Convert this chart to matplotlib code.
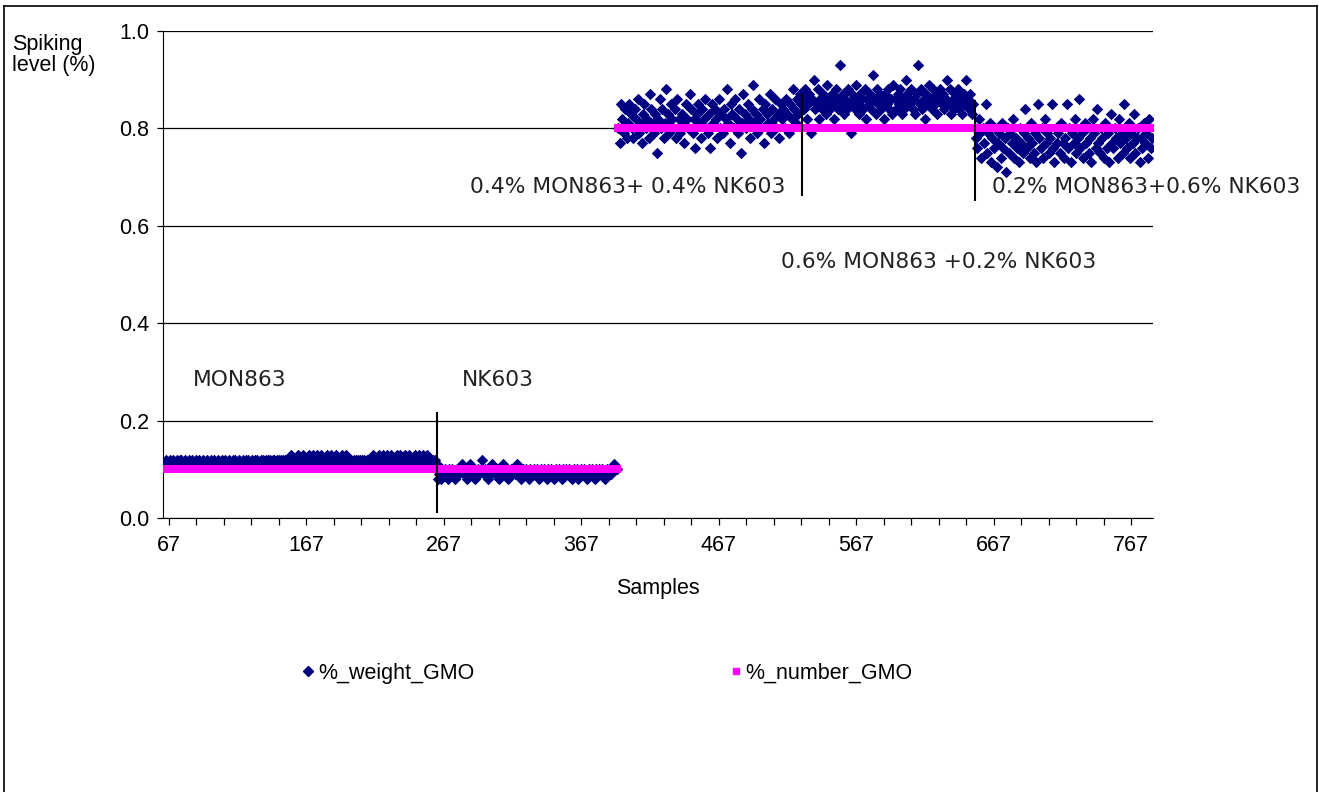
import matplotlib
matplotlib.use("Agg")
import matplotlib.pyplot as plt
import numpy as np
from matplotlib.lines import Line2D

# %_weight_GMO, in hundredths of a percent, read segment by segment
mon863 = [11, 12, 11, 11, 12, 11, 12, 11, 11, 12, 11, 12, 12, 11, 11, 12, 11, 11, 12, 11,
          12, 11, 11, 12, 11, 12, 11, 11, 12, 11, 11, 12, 11, 11, 12, 11, 12, 11, 11, 12,
          11, 11, 12, 11, 12, 11, 11, 12, 11, 11, 12, 12, 11, 11, 12, 11, 11, 12, 11, 12,
          11, 12, 11, 11, 12, 11, 12, 12, 11, 11, 12, 11, 12, 11, 12, 12, 11, 12, 11, 12,
          12, 11, 12, 12, 11, 12, 12, 11, 12, 12, 11, 12, 13, 12, 11, 12, 12, 13, 12, 11,
          12, 13, 12, 12, 11, 13, 12, 12, 13, 11, 12, 13, 12, 12, 13, 12, 11, 12, 13, 12,
          12, 13, 11, 12, 12, 13, 12, 12, 11, 13, 12, 12, 13, 12, 11, 12, 12, 11, 12, 12,
          11, 12, 12, 11, 12, 12, 11, 12, 12, 11, 12, 12, 13, 12, 11, 12, 13, 12, 12, 13,
          12, 11, 13, 12, 12, 13, 12, 11, 12, 13, 12, 13, 12, 11, 12, 13, 12, 12, 13, 12,
          11, 12, 13, 12, 12, 13, 12, 11, 13, 12, 12, 13, 12, 12, 11, 12, 11, 12, 11]
nk603 = [8, 9, 8, 10, 9, 10, 9, 8, 10, 9, 10, 9, 8, 9, 10, 9, 10, 11, 10, 9,
         9, 8, 10, 11, 10, 9, 10, 8, 9, 10, 9, 10, 12, 9, 10, 9, 8, 10, 9, 11,
         10, 9, 10, 9, 8, 10, 9, 11, 10, 9, 10, 8, 9, 10, 9, 10, 9, 11, 10, 9,
         8, 9, 10, 9, 10, 9, 8, 10, 9, 9, 10, 9, 10, 8, 9, 10, 9, 10, 9, 8,
         10, 9, 10, 9, 8, 9, 10, 9, 10, 9, 8, 10, 9, 10, 9, 10, 9, 8, 9, 10,
         9, 10, 8, 9, 10, 9, 10, 9, 8, 9, 10, 9, 10, 9, 8, 10, 9, 10, 9, 10,
         9, 8, 9, 10, 9, 10, 9, 10, 11, 10, 10]
mix_44 = [80, 77, 85, 82, 79, 84, 78, 81, 85, 83, 80, 78, 84, 82, 86, 79, 81, 77, 83, 85,
          80, 82, 78, 87, 84, 81, 79, 83, 75, 82, 86, 80, 84, 78, 81, 88, 83, 79, 85, 82,
          80, 84, 78, 86, 82, 79, 83, 81, 77, 85, 82, 80, 87, 84, 79, 82, 76, 83, 85, 81,
          78, 84, 82, 86, 80, 79, 83, 76, 85, 81, 84, 82, 78, 86, 80, 83, 79, 84, 82, 88,
          81, 77, 85, 83, 80, 86, 82, 79, 84, 75, 81, 87, 83, 80, 85, 82, 78, 84, 89, 81,
          83, 79, 86, 82, 80, 84, 77, 85, 83, 81, 87, 79, 84, 82, 86, 80, 83, 78, 85, 82,
          84, 80, 86, 83, 79, 85, 82, 88, 84, 81, 86, 83, 87, 85]
mix_62 = [86, 84, 88, 82, 85, 87, 79, 86, 90, 84, 85, 88, 82, 86, 84, 87, 85, 83, 89, 86,
          84, 87, 85, 82, 88, 86, 84, 93, 85, 87, 83, 86, 84, 88, 85, 79, 87, 86, 84, 89,
          85, 83, 87, 86, 84, 88, 82, 86, 85, 87, 84, 91, 86, 83, 88, 85, 87, 84, 86, 82,
          87, 85, 88, 84, 86, 83, 89, 86, 84, 87, 85, 88, 83, 86, 84, 90, 87, 85, 86, 88,
          84, 86, 83, 87, 93, 85, 88, 84, 86, 82, 87, 85, 89, 86, 84, 88, 85, 87, 83, 86,
          88, 85, 87, 84, 86, 90, 85, 88, 83, 86, 84, 87, 85, 88, 84, 86, 83, 87, 85, 90,
          86, 84, 87, 83, 85, 80]
mix_26 = [78, 76, 82, 79, 74, 80, 77, 85, 75, 79, 81, 73, 78, 76, 80, 72, 77, 79, 74, 81,
          76, 78, 71, 80, 75, 79, 77, 82, 74, 78, 76, 73, 80, 77, 75, 79, 84, 76, 78, 74,
          81, 77, 75, 79, 73, 85, 78, 76, 80, 74, 82, 77, 79, 75, 78, 85, 76, 73, 80, 77,
          79, 75, 81, 77, 74, 78, 85, 76, 80, 73, 79, 77, 82, 75, 78, 86, 76, 79, 74, 81,
          77, 80, 75, 78, 73, 82, 79, 76, 84, 77, 75, 80, 78, 74, 81, 76, 79, 73, 83, 77,
          76, 80, 78, 74, 82, 77, 79, 75, 85, 78, 76, 81, 74, 79, 77, 83, 75, 78, 80, 73,
          78, 76, 81, 77, 79, 74, 82, 76, 78]

segments = [mon863, nk603, mix_44, mix_62, mix_26]
number_levels = [0.1, 0.1, 0.8, 0.8, 0.8]   # %_number_GMO, constant per segment
first_sample = 64

weight = np.concatenate([np.array(s) / 100 for s in segments])
number = np.concatenate([np.full(len(s), lv) for s, lv in zip(segments, number_levels)])
samples = np.arange(first_sample, first_sample + len(weight))

fig = plt.figure(figsize=(13.19, 7.92), dpi=100)
ax = fig.add_axes([0.1236, 0.346, 0.7503, 0.6149])

ax.scatter(samples, weight, marker="D", s=34, color="#000080", linewidths=0, zorder=3)
ax.scatter(samples, number, marker="s", s=32, color="#ff00ff", linewidths=0, zorder=4)

# segment separators
ax.plot([262.5, 262.5], [0.012, 0.216], color="black", lw=1.5, zorder=5)
ax.plot([527.5, 527.5], [0.663, 0.869], color="black", lw=1.5, zorder=5)
ax.plot([653.5, 653.5], [0.652, 0.857], color="black", lw=1.5, zorder=5)

tfont = dict(family="DejaVu Sans", fontsize=15.7, color="#222222", va="center")
ax.text(85, 0.283, "MON863", **tfont)
ax.text(280, 0.283, "NK603", **tfont)
ax.text(286, 0.68, "0.4% MON863+ 0.4% NK603", **tfont)
ax.text(666, 0.68, "0.2% MON863+0.6% NK603", clip_on=False, **tfont)
ax.text(512, 0.526, "0.6% MON863 +0.2% NK603", **tfont)

ax.set_xlim(63, 782.5)
ax.set_ylim(0, 1.0)
ax.set_xticks(np.arange(67, 768, 100))
ax.set_xticks(np.arange(67, 782, 20), minor=True)
ax.set_yticks(np.arange(0, 1.01, 0.2))
ax.set_yticklabels(["%.1f" % v for v in np.arange(0, 1.01, 0.2)])
ax.yaxis.grid(True, color="black", lw=0.9)
ax.set_axisbelow(True)
for sp in ["top", "right"]:
    ax.spines[sp].set_visible(False)
ax.spines["left"].set_color("black")
ax.spines["bottom"].set_color("black")
ax.tick_params(axis="x", which="both", direction="out", length=5, width=0.9, labelsize=15.5, pad=7)
ax.tick_params(axis="y", direction="out", length=4, width=0.9, labelsize=15.5, pad=6)
for lab in ax.get_xticklabels() + ax.get_yticklabels():
    lab.set_family("Liberation Sans")

ax.set_xlabel("Samples", fontsize=15.5, family="Liberation Sans", labelpad=16)
fig.text(12 / 1319, 1 - 55 / 792, "Spiking\nlevel (%)", fontsize=15.5, family="Liberation Sans",
         va="center", ha="left", linespacing=1.0)

handles = [Line2D([], [], ls="none", marker="D", ms=5, color="#000080"),
           Line2D([], [], ls="none", marker="s", ms=5, color="#ff00ff")]
fig.legend(handles, ["%_weight_GMO", "%_number_GMO"], ncol=2, frameon=False,
           loc="center left", bbox_to_anchor=(291 / 1319, 1 - 673 / 792),
           prop={"family": "Liberation Sans", "size": 15.5},
           handlelength=0.6, handletextpad=0.15, columnspacing=11.85, borderpad=0)

# outer chart frame
for xs, ys in [([4, 4], [0, 786]), ([4, 1317], [786, 786]), ([1317, 1317], [0, 786])]:
    fig.add_artist(Line2D(np.array(xs) / 1319, np.array(ys) / 792, color="black", lw=1.2))

fig.savefig("out.png", dpi=100)
